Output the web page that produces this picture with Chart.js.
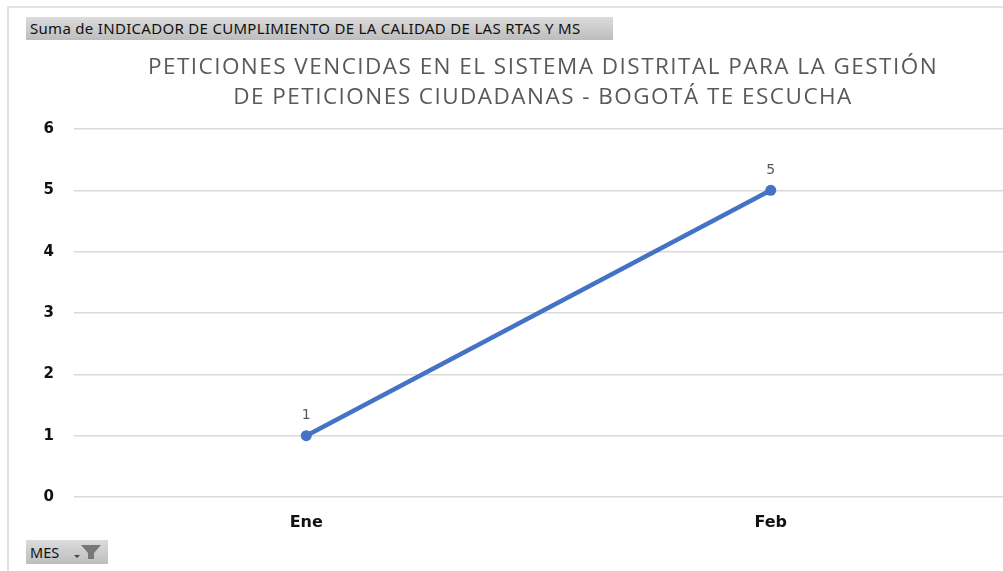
<!DOCTYPE html>
<html>
<head>
<meta charset="utf-8">
<style>
  html, body { margin: 0; background: #fff; }
  #wrap { position: relative; width: 1003px; height: 571px; overflow: hidden; }
  #frame { position: absolute; left: 7px; top: 6px; width: 1000px; height: 600px; border: 2px solid #e2e2e2; box-sizing: border-box; }
  canvas { position: absolute; left: 0; top: 0; }
  .btn {
    position: absolute; box-sizing: border-box; color: #111;
    background: linear-gradient(#dcdcdc, #bdbdbd);
    white-space: nowrap;
  }
  #valueBtn { left: 26px; top: 17px; width: 587px; height: 23px; font: 15px/23px "Noto Sans", sans-serif; letter-spacing: 0.3px; padding-left: 4px; }
  #fieldBtn { left: 26px; top: 540px; width: 82px; height: 24px; font: 14.5px/24px "Noto Sans", sans-serif; padding-left: 4px; }
  #fieldBtn svg { position: absolute; left: 47px; top: 4px; }
</style>
<script src="https://cdn.jsdelivr.net/npm/chart.js@4"></script>
</head>
<body>
<div id="wrap">
  <div id="frame"></div>
  <canvas id="chart" width="1003" height="571"></canvas>
  <div class="btn" id="valueBtn">Suma de INDICADOR DE CUMPLIMIENTO DE LA CALIDAD DE LAS RTAS Y MS</div>
  <div class="btn" id="fieldBtn">MES
    <svg width="34" height="16" viewBox="0 0 34 16">
      <path d="M1 11h6l-3 3z" fill="#444"/>
      <path d="M8 1h20l-7 8v6h-6V9z" fill="#777"/>
    </svg>
  </div>
</div>
<script>
const categories = ["Ene", "Feb"];
const values = [1, 5];
const yTicks = [0, 1, 2, 3, 4, 5, 6];
const titleLines = [
  "PETICIONES VENCIDAS EN EL SISTEMA DISTRITAL PARA LA GESTIÓN",
  "DE PETICIONES CIUDADANAS - BOGOTÁ TE ESCUCHA"
];

// titulo con espaciado de letras (el plugin title de Chart.js no lo permite)
const spacedTitle = {
  id: "spacedTitle",
  afterDraw(chart) {
    const ctx = chart.ctx;
    ctx.save();
    ctx.font = "22.5px 'Open Sans'";
    ctx.letterSpacing = "1.47px";
    ctx.fillStyle = "#595959";
    ctx.textAlign = "center";
    ctx.textBaseline = "middle";
    titleLines.forEach((line, i) => ctx.fillText(line, 543, 68 + i * 30));
    ctx.restore();
  }
};

// etiquetas de valor encima de cada punto
const pointLabels = {
  id: "pointLabels",
  afterDatasetsDraw(chart) {
    const ctx = chart.ctx;
    ctx.save();
    ctx.font = "14px 'DejaVu Sans'";
    ctx.fillStyle = "#595959";
    ctx.textAlign = "center";
    ctx.textBaseline = "bottom";
    chart.getDatasetMeta(0).data.forEach((pt, i) => {
      ctx.fillText(values[i], pt.x, pt.y - 13);
    });
    ctx.restore();
  }
};

new Chart(document.getElementById("chart"), {
  type: "line",
  data: {
    labels: categories,
    datasets: [{
      data: values,
      borderColor: "#4472c4",
      backgroundColor: "#4472c4",
      borderWidth: 4.5,
      pointRadius: 5.5,
      pointBackgroundColor: "#4472c4",
      pointBorderWidth: 0,
      tension: 0
    }]
  },
  options: {
    responsive: false,
    animation: false,
    layout: { autoPadding: false, padding: { top: 129, right: 0, left: 0, bottom: 0 } },
    plugins: {
      legend: { display: false },
      tooltip: { enabled: false },
      title: { display: false }
    },
    scales: {
      x: {
        offset: true,
        afterFit(scale) { scale.height = 74; scale.paddingRight = 0; scale.paddingLeft = 0; },
        grid: { display: false },
        border: { display: false },
        ticks: {
          color: "#111",
          padding: 8,
          font: { family: "'DejaVu Sans'", size: 16, weight: "bold" }
        }
      },
      y: {
        min: yTicks[0],
        max: yTicks[yTicks.length - 1],
        afterFit(scale) { scale.width = 74; scale.paddingTop = 0; scale.paddingBottom = 0; },
        afterBuildTicks(scale) { scale.ticks = yTicks.map(v => ({ value: v })); },
        grid: { color: "#d9d9d9", lineWidth: 1.5, drawTicks: false },
        border: { display: false },
        ticks: {
          color: "#111",
          padding: 20,
          font: { family: "'DejaVu Sans'", size: 15, weight: "bold" }
        }
      }
    }
  },
  plugins: [spacedTitle, pointLabels]
});
</script>
</body>
</html>
